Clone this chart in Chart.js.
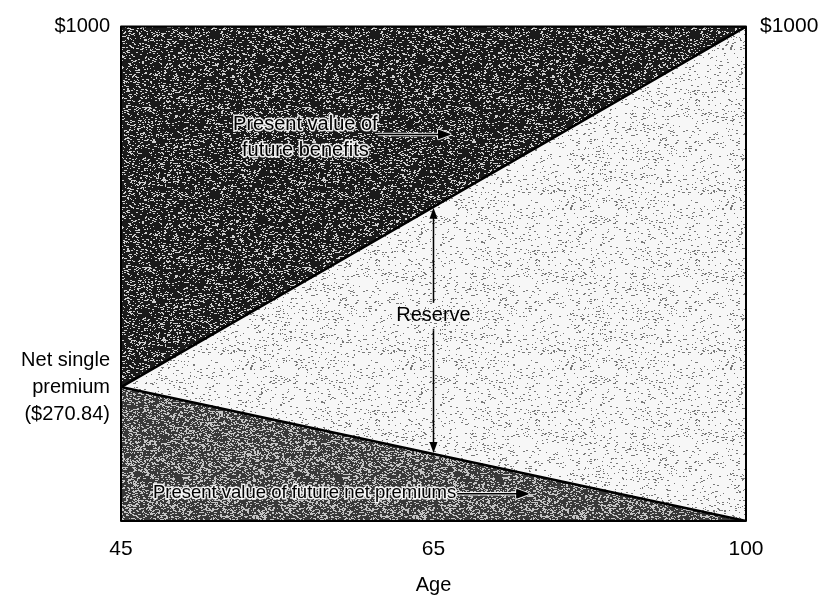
<!DOCTYPE html>
<html>
<head>
<meta charset="utf-8">
<script src="https://cdn.jsdelivr.net/npm/chart.js@4.4.0/dist/chart.umd.min.js"></script>
<style>
html, body { margin: 0; padding: 0; background: #fff; }
</style>
</head>
<body>
<canvas id="myChart" width="824" height="597"></canvas>
<script>
// values (schematic, ages are not to scale)
let ages = ['45', '65', '100']
let pvBenefits = [270.84, 635.42, 1000]
let pvPremiums = [270.84, 135.42, 0]
let leftTicks = [270.84, 1000]
let leftLabels = [['Net single', 'premium', '($270.84)'], '$1000']
let rightTicks = [1000]
let rightLabels = ['$1000']

let font = { family: "'Liberation Sans', Arial, sans-serif", size: 21 }

// deterministic speckle texture, mimics the printed screen tone
function stipple(bg, fg, amount, seed) {
    let c = document.createElement('canvas')
    c.width = 160
    c.height = 160
    let g = c.getContext('2d')
    g.fillStyle = bg
    g.fillRect(0, 0, 160, 160)
    let s = seed
    let rnd = () => { s = (s * 16807) % 2147483647; return s / 2147483647 }
    g.fillStyle = fg
    for (let i = 0; i < amount; i++) {
        g.fillRect(Math.floor(rnd() * 160), Math.floor(rnd() * 160), 1 + Math.floor(rnd() * 2), 1)
    }
    return g.createPattern(c, 'repeat')
}

let ctx = document.getElementById('myChart').getContext('2d')
let darkPat = stipple('#1a1a1a', '#cfcfcf', 3800, 7)
let midPat = stipple('#383838', '#c4c4c4', 6800, 13)
let lightPat = stipple('#f7f7f7', '#7a7a7a', 1400, 29)

function arrow(c, x1, y1, x2, y2, halo) {
    let a = Math.atan2(y2 - y1, x2 - x1)
    let draw = (col, w) => {
        c.strokeStyle = col
        c.fillStyle = col
        c.lineWidth = w
        c.beginPath()
        c.moveTo(x1, y1)
        c.lineTo(x2 - 8 * Math.cos(a), y2 - 8 * Math.sin(a))
        c.stroke()
        c.beginPath()
        c.moveTo(x2, y2)
        c.lineTo(x2 - 11 * Math.cos(a) + 4 * Math.sin(a), y2 - 11 * Math.sin(a) - 4 * Math.cos(a))
        c.lineTo(x2 - 11 * Math.cos(a) - 4 * Math.sin(a), y2 - 11 * Math.sin(a) + 4 * Math.cos(a))
        c.closePath()
        c.fill()
        if (halo) c.stroke()
    }
    if (halo) draw('rgba(255,255,255,0.9)', 3.5)
    draw('#000', 1.5)
}

function haloText(c, txt, x, y) {
    c.lineJoin = 'round'
    c.lineWidth = 3
    c.strokeStyle = 'rgba(255,255,255,0.9)'
    c.strokeText(txt, x, y)
    c.fillStyle = '#000'
    c.fillText(txt, x, y)
}

let areaBg = {
    id: 'areaBg',
    beforeDraw(chart) {
        let { left, top, width, height } = chart.chartArea
        chart.ctx.save()
        chart.ctx.fillStyle = lightPat
        chart.ctx.fillRect(left, top, width, height)
        chart.ctx.restore()
    }
}

let notes = {
    id: 'notes',
    afterDatasetsDraw(chart) {
        let c = chart.ctx
        let area = chart.chartArea
        let xs = chart.scales.x
        let ys = chart.scales.y
        let px = f => area.left + f * (area.right - area.left)
        c.save()
        c.font = "20px 'Liberation Sans', Arial, sans-serif"
        c.textBaseline = 'middle'

        // reserve arrow at age 65
        let rx = xs.getPixelForValue(1)
        let yTop = ys.getPixelForValue(pvBenefits[1])
        let yBot = ys.getPixelForValue(pvPremiums[1])
        arrow(c, rx, (yTop + yBot) / 2, rx, yTop + 1, false)
        arrow(c, rx, (yTop + yBot) / 2, rx, yBot - 1, false)
        let ry = ys.getPixelForValue(415)
        c.fillStyle = lightPat
        c.fillRect(rx - 40, ry - 13, 80, 26)
        c.fillStyle = '#000'
        c.textAlign = 'center'
        c.fillText('Reserve', rx, ry)

        // present value of future benefits
        haloText(c, 'Present value of', px(0.295), ys.getPixelForValue(802))
        haloText(c, 'future benefits', px(0.295), ys.getPixelForValue(750))
        arrow(c, px(0.411), ys.getPixelForValue(782), px(0.526), ys.getPixelForValue(782), true)

        // present value of future net premiums
        c.textAlign = 'left'
        c.font = "18.5px 'Liberation Sans', Arial, sans-serif"
        haloText(c, 'Present value of future net premiums', px(0.051), ys.getPixelForValue(57))
        arrow(c, px(0.538), ys.getPixelForValue(55), px(0.651), ys.getPixelForValue(55), true)

        // frame
        c.strokeStyle = '#000'
        c.lineWidth = 2
        c.strokeRect(area.left, area.top, area.right - area.left, area.bottom - area.top)
        c.restore()
    }
}

let chart = new Chart(ctx, {
    type: 'line',
    data: {
        labels: ages,
        datasets: [{
            label: 'Present value of future benefits',
            data: pvBenefits,
            borderColor: '#000',
            borderWidth: 2.5,
            pointRadius: 0,
            tension: 0,
            fill: 'end',
            backgroundColor: darkPat
        }, {
            label: 'Present value of future net premiums',
            data: pvPremiums,
            borderColor: '#000',
            borderWidth: 2.5,
            pointRadius: 0,
            tension: 0,
            fill: 'origin',
            backgroundColor: midPat
        }]
    },
    options: {
        responsive: false,
        animation: false,
        layout: { padding: { top: 25, right: 0, left: 0, bottom: 0 } },
        plugins: { legend: { display: false }, tooltip: { enabled: false } },
        scales: {
            x: {
                type: 'category',
                offset: false,
                grid: { display: false, drawTicks: false },
                border: { display: false },
                ticks: { padding: 16, color: '#000', font: font, maxRotation: 0, autoSkip: false },
                title: { display: true, text: 'Age', color: '#000', font: { family: font.family, size: 20 }, padding: { top: 4, bottom: 0 } },
                afterFit: s => { s.height = 76 }
            },
            y: {
                position: 'left',
                min: 0,
                max: 1000,
                grid: { display: false, drawTicks: false },
                border: { display: false },
                afterBuildTicks: s => { s.ticks = leftTicks.map(v => ({ value: v })) },
                ticks: {
                    autoSkip: false,
                    padding: 11,
                    color: '#000',
                    font: { family: font.family, size: 20, lineHeight: 1.35 },
                    callback: v => leftLabels[leftTicks.indexOf(v)]
                },
                afterFit: s => { s.width = 121 }
            },
            y2: {
                position: 'right',
                min: 0,
                max: 1000,
                grid: { display: false, drawTicks: false },
                border: { display: false },
                afterBuildTicks: s => { s.ticks = rightTicks.map(v => ({ value: v })) },
                ticks: {
                    autoSkip: false,
                    padding: 14,
                    color: '#000',
                    font: font,
                    callback: v => rightLabels[rightTicks.indexOf(v)]
                },
                afterFit: s => { s.width = 78 }
            }
        }
    },
    plugins: [areaBg, notes]
})
</script>
</body>
</html>
